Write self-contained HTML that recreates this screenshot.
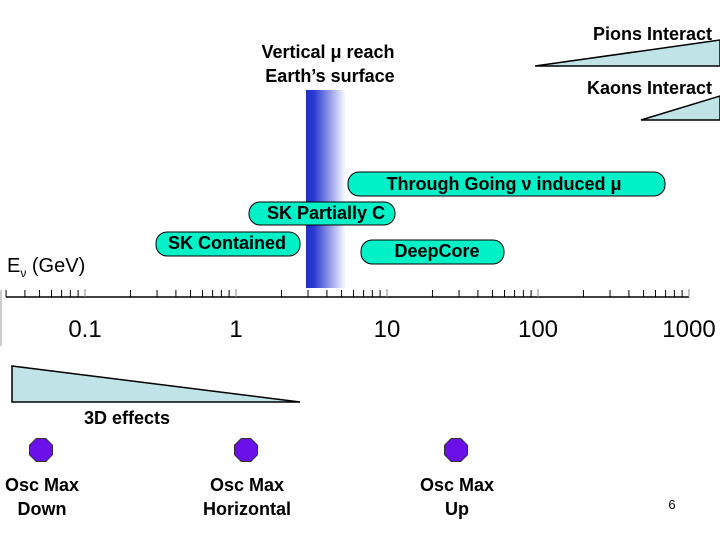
<!DOCTYPE html>
<html><head><meta charset="utf-8"><style>
body{margin:0;background:#fff}
svg{display:block;font-family:"Liberation Sans",Arial,sans-serif}
.b{font-weight:bold;font-size:18px;fill:#000}
</style></head><body>
<svg width="720" height="540" viewBox="0 0 720 540">
<defs>
<linearGradient id="band" x1="0" x2="1" y1="0" y2="0">
<stop offset="0" stop-color="#2030c8"/><stop offset="0.2" stop-color="#2a3ad0"/><stop offset="1" stop-color="#ffffff"/>
</linearGradient>
</defs>
<g>
<polygon points="535,66 720,66 720,40" fill="#bfe3e6" stroke="#000" stroke-width="1.5"/>
<text x="712" y="40" text-anchor="end" class="b">Pions Interact</text>
</g>
<g>
<polygon points="641,120 720,120 720,96" fill="#bfe3e6" stroke="#000" stroke-width="1.5"/>
<text x="712" y="94" text-anchor="end" class="b">Kaons Interact</text>
</g>
<g>
<text x="328" y="58" text-anchor="middle" class="b">Vertical μ reach</text>
<text x="330" y="82" text-anchor="middle" class="b">Earth’s surface</text>
</g>
<rect x="306" y="90" width="40" height="198" fill="url(#band)"/>
<g>
<rect x="348" y="172" width="317" height="24" rx="11" fill="#00f0c8" stroke="#000"/>
<text x="504" y="190" text-anchor="middle" class="b">Through Going ν induced μ</text></g>
<g>
<rect x="249" y="202" width="146" height="23" rx="11" fill="#00f0c8" stroke="#000"/>
<text x="326" y="219" text-anchor="middle" class="b">SK Partially C</text></g>
<g>
<rect x="156" y="232" width="144" height="24" rx="11" fill="#00f0c8" stroke="#000"/>
<text x="227" y="249" text-anchor="middle" class="b">SK Contained</text></g>
<g>
<rect x="361" y="240" width="143" height="24" rx="11" fill="#00f0c8" stroke="#000"/>
<text x="437" y="257" text-anchor="middle" class="b">DeepCore</text></g>
<text x="7" y="272" style="font-size:20px">E<tspan font-size="12" dy="5">ν</tspan><tspan dy="-5"> (GeV)</tspan></text>
<line x1="1" y1="290" x2="1" y2="346" stroke="#bbb" stroke-width="1.5"/>
<g id="axis"></g>
<g>
<polygon points="12,366 12,402 300,402" fill="#bfe3e6" stroke="#000" stroke-width="1.5"/>
<text x="127" y="424" text-anchor="middle" class="b">3D effects</text></g>
<g id="osc"></g>
<text x="672" y="509" text-anchor="middle" font-size="13">6</text>
</svg>
<script>
const decades=[0.1,1,10,100,1000];
const decadeLabels=["0.1","1","10","100","1000"];
const minorTicks=[0.03,0.04,0.05,0.06,0.07,0.08,0.09,0.2,0.3,0.4,0.5,0.6,0.7,0.8,0.9,2,3,4,5,6,7,8,9,20,30,40,50,60,70,80,90,200,300,400,500,600,700,800,900];
const oscLabels=[["Osc Max","Down"],["Osc Max","Horizontal"],["Osc Max","Up"]];
const oscX=[41,246,456];
const NS="http://www.w3.org/2000/svg";
function xs(v){return 236+151*Math.log10(v);}
const ax=document.getElementById('axis');
function mk(t,a,p){const e=document.createElementNS(NS,t);for(const k in a)e.setAttribute(k,a[k]);p.appendChild(e);return e;}
const ln=mk('line',{x1:xs(0.03),y1:297,x2:xs(1000),y2:297,stroke:'#000','stroke-width':1.5},ax);


minorTicks.forEach(v=>{const t=mk('line',{x1:xs(v),x2:xs(v),y1:297,y2:290,stroke:'#000'},ax);

});
decades.forEach((v,i)=>{const t=mk('line',{x1:xs(v),x2:xs(v),y1:297,y2:289,stroke:'#888'},ax);


const l=mk('text',{x:xs(v),y:337,'text-anchor':'middle','font-size':24},ax);l.textContent=decadeLabels[i];

});
const og=document.getElementById('osc');
oscX.forEach((cx,i)=>{const g=mk('g',{},og);


const r=12.5;let p=[];for(let k=0;k<8;k++){const a=Math.PI/8+k*Math.PI/4;p.push((cx+r*Math.cos(a)).toFixed(1)+','+(450+r*Math.sin(a)).toFixed(1));}
mk('polygon',{points:p.join(' '),fill:'#6a10e8',stroke:'#333'},g);
oscLabels[i].forEach((s,j)=>{const t=mk('text',{x:cx+1,y:491+j*24,'text-anchor':'middle',class:'b'},g);t.textContent=s;});});
</script>
</body></html>
